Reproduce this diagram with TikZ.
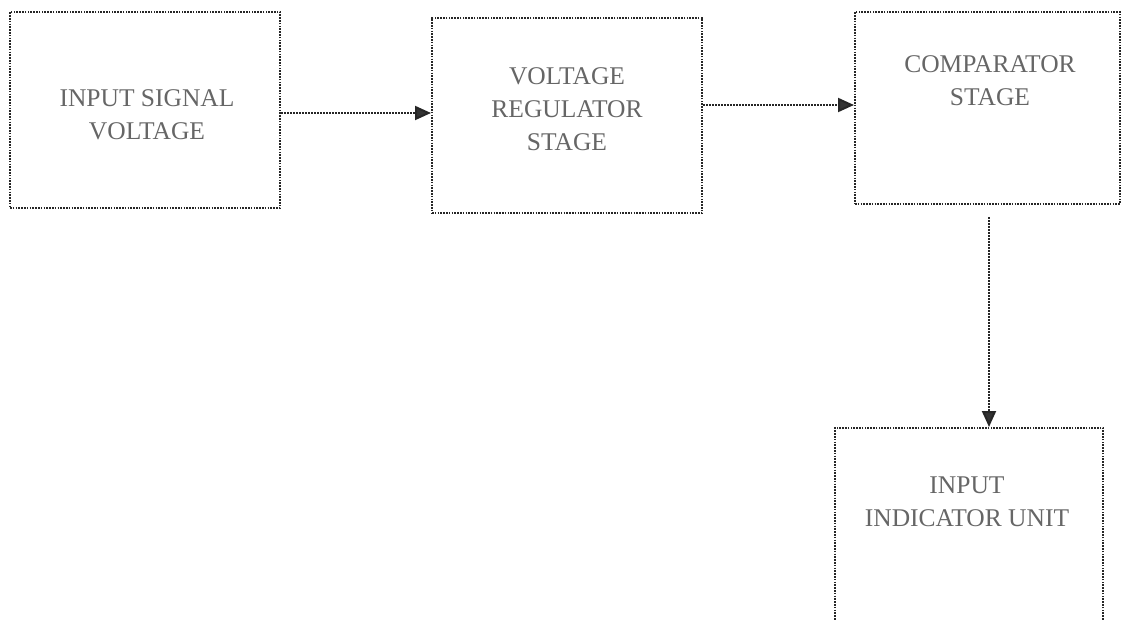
\documentclass[tikz,border=0pt]{standalone}
\usepackage{fontspec}
\setmainfont{Liberation Serif}
\usetikzlibrary{arrows.meta,calc}
\begin{document}
\begin{tikzpicture}[x=1pt,y=-1pt,
  box/.style={draw=black!85, line width=2pt, dash pattern=on 1.6pt off 1.2pt, inner sep=0pt},
  lbl/.style={text=black!60, font=\fontsize{25.5}{33}\selectfont, align=center, inner sep=0pt},
  arr/.style={draw=black!85, line width=2pt, dash pattern=on 1.6pt off 1.4pt,
    -{Triangle[length=16pt,width=14pt,fill=black!80]}}]
\useasboundingbox (0,0) rectangle (1124,620);
\clip (0,0) rectangle (1124,620);
% boxes
\node[box, minimum width=270pt, minimum height=196pt] (b1) at (145,110) {};
\node[box, minimum width=270pt, minimum height=195pt] (b2) at (567,115.5) {};
\node[box, minimum width=265pt, minimum height=192pt] (b3) at (987.5,108) {};
\node[box, minimum width=268pt, minimum height=212pt] (b4) at (969,534) {};
% labels
\node[lbl] (t1) at (147,115) {INPUT SIGNAL\\VOLTAGE};
\node[lbl] (t2) at (567,109.5) {VOLTAGE\\REGULATOR\\STAGE};
\node[lbl] (t3) at (990,80.5) {COMPARATOR\\STAGE};
\node[lbl] (t4) at (967,502) {INPUT\\INDICATOR UNIT};
% helper coordinates
\coordinate (y1) at (0,113);
\coordinate (y2) at (0,105);
\coordinate (x3) at (989,0);
% connectors
\draw[arr] (b1.east |- y1) -- (b2.west |- y1);
\draw[arr] (b2.east |- y2) -- (b3.west |- y2);
\draw[arr] ($(x3 |- b3.south)+(0,12)$) -- (x3 |- b4.north);
\end{tikzpicture}
\end{document}
